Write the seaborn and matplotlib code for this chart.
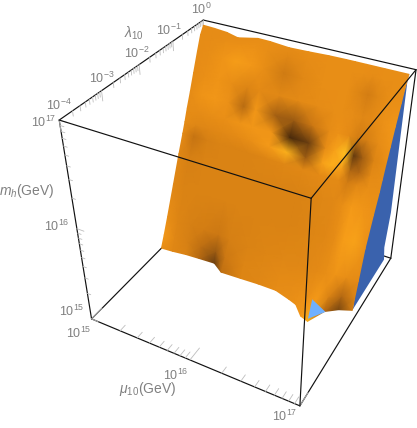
import numpy as np
import matplotlib
matplotlib.use("Agg")
import matplotlib.pyplot as plt
import seaborn as sns

# ----------------------------------------
# Data (log10 of each axis)
# ----------------------------------------

MU_RANGE = [15, 17]
LAM_RANGE = [-4, 0]
MH_RANGE = [15, 17]

mu_ticks = [15, 16, 17]
lam_ticks = [-4, -3, -2, -1, 0]
mh_ticks = [15, 16, 17]

# surface grid: log10(mu) columns, log10(mh) rows
mu_grid = [15.00, 15.12, 15.26, 15.40, 15.56, 15.68, 15.88, 16.06,
           16.24, 16.40, 16.48, 16.58, 16.66, 16.74, 16.84, 16.95]
mh_grid = [15.00, 15.12, 15.28, 15.58, 15.86, 16.04, 16.14, 16.26,
           16.40, 16.56, 16.74, 16.88, 16.95]

# log10(lambda) on the surface
lam_surface = [
    [-1.82, -1.80, -1.76, -1.74, -1.72, -1.88, -1.86, -1.84, -1.84, -1.94, -2.00, -2.22, -2.28, -1.92, -1.76, -1.66],
    [-1.70, -1.69, -1.67, -1.66, -1.66, -1.72, -1.74, -1.74, -1.75, -1.80, -1.84, -1.94, -1.98, -1.78, -1.66, -1.60],
    [-1.55, -1.55, -1.53, -1.53, -1.53, -1.55, -1.57, -1.58, -1.58, -1.60, -1.60, -1.58, -1.57, -1.53, -1.50, -1.50],
    [-1.28, -1.28, -1.26, -1.26, -1.26, -1.28, -1.29, -1.31, -1.31, -1.32, -1.32, -1.31, -1.29, -1.26, -1.24, -1.32],
    [-1.03, -1.03, -1.01, -1.01, -1.01, -1.03, -1.04, -1.05, -1.05, -1.06, -1.06, -1.05, -1.04, -1.01, -.99, -1.06],
    [-.86, -.86, -.85, -.85, -.85, -.86, -.87, -.88, -.88, -.89, -.89, -.88, -.87, -.85, -.84, -.88],
    [-.77, -.77, -.77, -.77, -.77, -.77, -.78, -.79, -.79, -.80, -.80, -.79, -.79, -.77, -.76, -.80],
    [-.67, -.67, -.67, -.67, -.67, -.67, -.68, -.68, -.68, -.69, -.69, -.68, -.68, -.67, -.66, -.70],
    [-.54, -.54, -.54, -.54, -.54, -.54, -.55, -.55, -.55, -.56, -.56, -.55, -.55, -.54, -.54, -.57],
    [-.40, -.40, -.40, -.40, -.40, -.40, -.40, -.40, -.40, -.41, -.41, -.41, -.40, -.40, -.40, -.43],
    [-.24, -.24, -.24, -.24, -.24, -.24, -.24, -.24, -.24, -.24, -.24, -.24, -.24, -.24, -.24, -.25],
    [-.11, -.11, -.11, -.11, -.11, -.11, -.11, -.11, -.11, -.11, -.11, -.11, -.11, -.11, -.11, -.12],
    [0, -.02, -.06, -.16, -.01, -.02, -.08, -.06, -.03, -.02, -.02, -.02, -.02, -.02, -.02, -.02],
]

# lighting on the surface, 0 dark .. 1 bright
light = [
    [.62, .55, .50, .30, .12, .35, .52, .55, .60, .62, .66, .72, .92, .30, .15, .45],
    [.72, .55, .48, .35, .22, .42, .52, .54, .58, .60, .62, .65, .75, .50, .30, .50],
    [.62, .52, .48, .46, .42, .48, .50, .52, .54, .55, .56, .58, .62, .68, .62, .58],
    [.55, .50, .50, .50, .50, .50, .50, .50, .50, .52, .53, .55, .60, .78, .82, .66],
    [.55, .48, .50, .50, .50, .50, .50, .50, .50, .52, .54, .56, .62, .74, .70, .66],
    [.58, .38, .48, .50, .50, .50, .52, .54, .56, .58, .58, .58, .45, .55, .62, .62],
    [.60, .54, .55, .56, .58, .62, .74, .92, .22, .80, .90, .80, .28, .30, .58, .62],
    [.60, .60, .62, .64, .68, .72, .70, .05, .12, .60, .80, 1.0, .10, .24, .52, .62],
    [.60, .68, .72, .66, .32, .72, .24, .22, .42, .60, .66, .58, .46, .48, .60, .68],
    [.60, .64, .68, .62, .52, .58, .56, .58, .60, .62, .62, .60, .56, .58, .66, .72],
    [.60, .62, .68, .78, .72, .62, .44, .56, .62, .62, .62, .52, .46, .54, .62, .64],
    [.60, .60, .62, .64, .66, .62, .56, .60, .62, .62, .62, .62, .60, .62, .62, .62],
    [.60, .60, .60, .60, .62, .62, .60, .62, .62, .62, .62, .62, .62, .62, .62, .62],
]

# underside strip along the high-mu edge (log10 lambda, log10 mh)
under_lam = [-1.64, -.10, -.18, -.04, -.06, 0.0, -.60, -1.00, -1.50]
under_mh = [15.00, 15.00, 15.18, 15.54, 16.90, 16.96, 16.50, 16.00, 15.50]

# hole at the lowest part of the surface (log10 mu, log10 lambda)
hole_mu = [16.65, 16.58, 16.75]
hole_lam = [-2.22, -1.74, -1.92]

# ----------------------------------------
# Camera: box corners as they sit in the picture
# ----------------------------------------

BOX_CORNERS = [
    (0, 0, 0, 91, 319), (1, 0, 0, 299.5, 406), (1, 1, 0, 390.5, 258), (0, 1, 0, 211, 199),
    (0, 0, 1, 60, 120), (1, 0, 1, 311.5, 198), (1, 1, 1, 416.5, 70), (0, 1, 1, 202, 20),
]


def fit_camera(corners):
    rows, rhs = [], []
    for a, b, c, x, y in corners:
        rows.append([a, b, c, 1, 0, 0, 0, 0, -x * a, -x * b, -x * c])
        rhs.append(x)
        rows.append([0, 0, 0, 0, a, b, c, 1, -y * a, -y * b, -y * c])
        rhs.append(y)
    p = np.linalg.lstsq(np.array(rows), np.array(rhs), rcond=None)[0]
    return np.append(p, 1).reshape(3, 4)


CAMERA = fit_camera(BOX_CORNERS)


def project(mu, lam, mh):
    a = (np.asarray(mu, float) - MU_RANGE[0]) / (MU_RANGE[1] - MU_RANGE[0])
    b = (np.asarray(lam, float) - LAM_RANGE[0]) / (LAM_RANGE[1] - LAM_RANGE[0])
    c = (np.asarray(mh, float) - MH_RANGE[0]) / (MH_RANGE[1] - MH_RANGE[0])
    h = np.stack([a, b, c, np.ones_like(a)])
    w = np.tensordot(CAMERA, h, axes=1)
    return w[0] / w[2], w[1] / w[2]


# ----------------------------------------
# Figure
# ----------------------------------------

sns.set_theme(style="white")
plt.rcParams["font.family"] = ["Liberation Sans", "DejaVu Sans"]
plt.rcParams["mathtext.fontset"] = "custom"
plt.rcParams["mathtext.rm"] = "Liberation Sans"
plt.rcParams["mathtext.it"] = "Liberation Sans:italic"
plt.rcParams["mathtext.default"] = "regular"

GREY = "#808080"
TICK_GREY = "#bdbdbd"
FONT = 9
TITLE_FONT = 10

fig = plt.figure(figsize=(4.17, 4.28), dpi=100)
ax = fig.add_axes([0, 0, 1, 1])

mu0, mu1 = MU_RANGE
lam0, lam1 = LAM_RANGE
mh0, mh1 = MH_RANGE


def edge(p, q, z):
    x, y = project([p[0], q[0]], [p[1], q[1]], [p[2], q[2]])
    sns.lineplot(x=x, y=y, sort=False, estimator=None, color="#111111",
                 linewidth=0.85, zorder=z, ax=ax)


back_edges = [
    ((mu0, lam1, mh1), (mu1, lam1, mh1)),
    ((mu0, lam0, mh1), (mu0, lam1, mh1)),
    ((mu0, lam0, mh0), (mu0, lam0, mh1)),
    ((mu0, lam0, mh0), (mu1, lam0, mh0)),
    ((mu0, lam0, mh0), (mu0, lam1, mh0)),
    ((mu0, lam1, mh0), (mu1, lam1, mh0)),
    ((mu1, lam0, mh0), (mu1, lam1, mh0)),
    ((mu1, lam1, mh0), (mu1, lam1, mh1)),
]
front_edges = [
    ((mu0, lam0, mh1), (mu1, lam0, mh1)),
    ((mu1, lam0, mh1), (mu1, lam1, mh1)),
    ((mu1, lam0, mh0), (mu1, lam0, mh1)),
]
for p, q in back_edges:
    edge(p, q, 1)
for p, q in front_edges:
    edge(p, q, 6)

# ----------------------------------------
# Surface
# ----------------------------------------

orange = sns.blend_palette(
    ["#2e1a08", "#6e4010", "#a86212", "#c47212", "#da8314",
     "#e98e16", "#f59a18", "#fba81a", "#ffc020"],
    n_colors=256, as_cmap=True)

ux, uy = project(np.full(len(under_lam), mu_grid[-1]), under_lam, under_mh)
ax.fill(ux, uy, color="#3a62ad", lw=0, zorder=2)

mu_mesh, mh_mesh = np.meshgrid(mu_grid, mh_grid)
sx, sy = project(mu_mesh, np.array(lam_surface), mh_mesh)
ax.pcolormesh(sx, sy, np.array(light), shading="gouraud", cmap=orange,
              vmin=0, vmax=1, zorder=3)

hx, hy = project(hole_mu, hole_lam, np.full(len(hole_mu), mh0))
ax.fill(hx, hy, color="#6fb0ff", lw=0, zorder=4)

# ----------------------------------------
# Ticks
# ----------------------------------------


def tick(p, d, major):
    scale = 1.0 if major else 0.5
    q = [p[i] + d[i] * scale for i in range(3)]
    x, y = project([p[0], q[0]], [p[1], q[1]], [p[2], q[2]])
    ax.plot(x, y, color=TICK_GREY, lw=0.6, zorder=1)


for e in lam_ticks[:-1]:
    for k in range(1, 10):
        tick((mu0, e + np.log10(k), mh1), (0, 0, -0.09), k == 1)
tick((mu0, lam1, mh1), (0, 0, -0.09), True)

for e in mh_ticks[:-1]:
    for k in range(1, 10):
        tick((mu0, lam0, e + np.log10(k)), (0.07, 0, 0), k == 1)
tick((mu0, lam0, mh1), (0.07, 0, 0), True)

for e in mu_ticks[:-1]:
    for k in range(1, 10):
        tick((e + np.log10(k), lam0, mh0), (0, 0.3, 0), k == 1)
tick((mu1, lam0, mh0), (0, 0.3, 0), True)

# ----------------------------------------
# Labels
# ----------------------------------------


def tick_label(p, exp, off):
    x, y = project([p[0]], [p[1]], [p[2]])
    ax.annotate(f"$10^{{{exp}}}$", (x[0], y[0]), xytext=off, textcoords="offset pixels",
                ha="center", va="center", color=GREY, fontsize=FONT, zorder=7)


lam_offsets = [(0, 15), (0, 12), (-2, 11), (-4, 11), (-2, 11)]
mh_offsets = [(-20, 7), (-20, 2), (-16, -2)]
mu_offsets = [(-13, -15), (-14, -15), (-15, -11)]

for e, off in zip(lam_ticks, lam_offsets):
    tick_label((mu0, e, mh1), e, off)
for e, off in zip(mh_ticks, mh_offsets):
    tick_label((mu0, lam0, e), e, off)
for e, off in zip(mu_ticks, mu_offsets):
    tick_label((e, lam0, mh0), e, off)

ax.text(134, 33, r"$\mathit{\lambda}_{10}$", ha="center", va="center", color=GREY, fontsize=TITLE_FONT)
ax.text(27, 191, r"$\mathit{m}_{\mathit{h}}$(GeV)", ha="center", va="center", color=GREY, fontsize=TITLE_FONT)
ax.text(148, 389, r"$\mathit{\mu}_{10}$(GeV)", ha="center", va="center", color=GREY, fontsize=TITLE_FONT)

ax.set_xlim(0, 417)
ax.set_ylim(428, 0)
ax.axis("off")

fig.savefig("out.png", dpi=100)
